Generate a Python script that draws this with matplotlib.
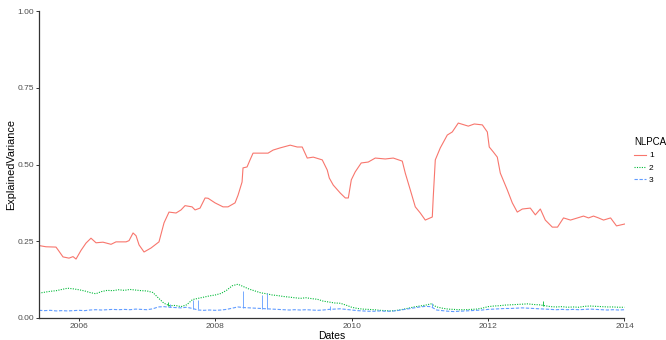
"""
plot.py
Explained variance of the first three NLPCA components over time.
"""

import numpy as np
import pandas as pd
import matplotlib
matplotlib.use("Agg")
import matplotlib.pyplot as plt
from matplotlib.lines import Line2D

plt.rcParams["font.family"] = ["Liberation Sans", "DejaVu Sans"]

RED = "#F8766D"
GREEN = "#00BA38"
BLUE = "#619CFF"

# component 1, read as (decimal year, value)
nlpca1_years = [
    2005.413, 2005.516, 2005.662, 2005.692, 2005.765, 2005.853, 2005.912, 2005.956,
    2006.029, 2006.103, 2006.176, 2006.250, 2006.352, 2006.470, 2006.543, 2006.690,
    2006.734, 2006.793, 2006.837, 2006.881, 2006.954, 2007.057, 2007.174, 2007.248,
    2007.321, 2007.424, 2007.497, 2007.556, 2007.659, 2007.703, 2007.776, 2007.850,
    2007.894, 2007.996, 2008.114, 2008.187, 2008.290, 2008.334, 2008.393, 2008.407,
    2008.466, 2008.510, 2008.554, 2008.657, 2008.774, 2008.848, 2008.950, 2009.097,
    2009.200, 2009.273, 2009.347, 2009.435, 2009.567, 2009.640, 2009.670, 2009.728,
    2009.831, 2009.905, 2009.949, 2009.993, 2010.051, 2010.139, 2010.242, 2010.345,
    2010.492, 2010.609, 2010.741, 2010.785, 2010.859, 2010.932, 2011.006, 2011.079,
    2011.182, 2011.196, 2011.226, 2011.299, 2011.402, 2011.475, 2011.563, 2011.710,
    2011.798, 2011.916, 2011.989, 2012.018, 2012.077, 2012.136, 2012.180, 2012.283,
    2012.356, 2012.429, 2012.503, 2012.620, 2012.694, 2012.767, 2012.840, 2012.943,
    2013.017, 2013.105, 2013.207, 2013.310, 2013.398, 2013.472, 2013.545, 2013.618,
    2013.692, 2013.795, 2013.882, 2013.941, 2014.000,
]
nlpca1_values = [
    0.236, 0.232, 0.231, 0.222, 0.199, 0.195, 0.200, 0.192,
    0.220, 0.244, 0.260, 0.245, 0.247, 0.240, 0.248, 0.248,
    0.252, 0.277, 0.268, 0.238, 0.215, 0.228, 0.248, 0.310,
    0.345, 0.342, 0.352, 0.366, 0.362, 0.352, 0.358, 0.391,
    0.390, 0.375, 0.362, 0.362, 0.375, 0.400, 0.443, 0.489,
    0.492, 0.515, 0.537, 0.537, 0.537, 0.547, 0.554, 0.563,
    0.557, 0.557, 0.521, 0.524, 0.515, 0.482, 0.456, 0.433,
    0.407, 0.391, 0.391, 0.450, 0.476, 0.505, 0.508, 0.521,
    0.518, 0.521, 0.511, 0.472, 0.417, 0.362, 0.342, 0.319,
    0.329, 0.394, 0.515, 0.554, 0.596, 0.606, 0.635, 0.625,
    0.632, 0.629, 0.606, 0.557, 0.541, 0.524, 0.472, 0.417,
    0.375, 0.345, 0.355, 0.358, 0.336, 0.355, 0.319, 0.296,
    0.296, 0.326, 0.319, 0.326, 0.332, 0.326, 0.332, 0.326,
    0.319, 0.326, 0.300, 0.303, 0.306,
]

# components 2 and 3, monthly from 2005-06 to 2014-01
monthly_start = "2005-06-01"
monthly_end = "2014-01-01"
nlpca2_values = [
    0.081, 0.084, 0.087, 0.089, 0.093, 0.097, 0.095, 0.092, 0.088, 0.083,
    0.079, 0.086, 0.090, 0.089, 0.092, 0.090, 0.093, 0.091, 0.089, 0.088,
    0.083, 0.066, 0.048, 0.040, 0.041, 0.037, 0.043, 0.060, 0.064, 0.068,
    0.072, 0.075, 0.080, 0.090, 0.105, 0.110, 0.102, 0.094, 0.088, 0.082,
    0.079, 0.075, 0.073, 0.070, 0.068, 0.066, 0.064, 0.066, 0.063, 0.061,
    0.055, 0.052, 0.049, 0.048, 0.042, 0.035, 0.031, 0.029, 0.028, 0.027,
    0.025, 0.024, 0.023, 0.025, 0.028, 0.032, 0.036, 0.039, 0.042, 0.046,
    0.036, 0.032, 0.029, 0.028, 0.027, 0.027, 0.028, 0.029, 0.032, 0.037,
    0.039, 0.040, 0.042, 0.043, 0.044, 0.045, 0.046, 0.044, 0.043, 0.040,
    0.037, 0.036, 0.037, 0.035, 0.036, 0.035, 0.038, 0.039, 0.038, 0.037,
    0.036, 0.036, 0.035, 0.035,
]
nlpca3_values = [
    0.025, 0.024, 0.025, 0.023, 0.024, 0.023, 0.024, 0.025, 0.024, 0.026,
    0.027, 0.026, 0.027, 0.028, 0.027, 0.028, 0.027, 0.029, 0.028, 0.027,
    0.030, 0.036, 0.037, 0.035, 0.034, 0.033, 0.035, 0.031, 0.026, 0.025,
    0.026, 0.025, 0.026, 0.028, 0.032, 0.036, 0.034, 0.033, 0.032, 0.031,
    0.030, 0.029, 0.028, 0.027, 0.026, 0.027, 0.026, 0.027, 0.026, 0.025,
    0.026, 0.028, 0.029, 0.030, 0.028, 0.026, 0.024, 0.023, 0.022, 0.022,
    0.023, 0.022, 0.022, 0.024, 0.027, 0.030, 0.033, 0.036, 0.038, 0.037,
    0.026, 0.024, 0.022, 0.021, 0.022, 0.023, 0.024, 0.025, 0.026, 0.028,
    0.029, 0.030, 0.031, 0.031, 0.032, 0.033, 0.032, 0.031, 0.030, 0.029,
    0.028, 0.027, 0.028, 0.027, 0.028, 0.027, 0.028, 0.029, 0.028, 0.027,
    0.026, 0.027, 0.026, 0.027,
]

# single-day spikes
nlpca2_spike_years = [2007.30, 2012.81]
nlpca2_spike_base = [0.040, 0.040]
nlpca2_spike_peak = [0.052, 0.056]
nlpca3_spike_years = [2007.34, 2007.673, 2007.747, 2008.407, 2008.686, 2008.76, 2009.68, 2011.18]
nlpca3_spike_base = [0.035, 0.030, 0.030, 0.034, 0.030, 0.030, 0.026, 0.037]
nlpca3_spike_peak = [0.046, 0.058, 0.060, 0.088, 0.075, 0.080, 0.040, 0.050]


def to_dates(years):
    years = np.asarray(years, dtype=float)
    whole = np.floor(years).astype(int)
    base = pd.to_datetime([f"{y}-01-01" for y in whole])
    return base + pd.to_timedelta((years - whole) * 365.25, unit="D")


def main():
    fig = plt.figure(figsize=(6.66, 3.4), dpi=100)
    ax = fig.add_axes([39 / 666, 1 - 318 / 340, (624.5 - 39) / 666, 307 / 340])

    monthly = pd.date_range(monthly_start, monthly_end, freq="MS")
    lw = 0.8

    ax.plot(to_dates(nlpca1_years), nlpca1_values, color=RED, lw=lw)
    ax.plot(monthly, nlpca2_values, color=GREEN, lw=lw, linestyle=(0, (1, 1.2)))
    ax.vlines(to_dates(nlpca2_spike_years), nlpca2_spike_base, nlpca2_spike_peak,
              color=GREEN, lw=0.6)
    ax.plot(monthly, nlpca3_values, color=BLUE, lw=lw, linestyle=(0, (3, 1.5)))
    ax.vlines(to_dates(nlpca3_spike_years), nlpca3_spike_base, nlpca3_spike_peak,
              color=BLUE, lw=0.6)

    ax.set_xlim(to_dates([2005.413])[0], pd.Timestamp("2014-01-01"))
    ax.set_ylim(0, 1)
    ax.set_yticks([0, 0.25, 0.5, 0.75, 1.0])
    ax.set_yticklabels(["0.00", "0.25", "0.50", "0.75", "1.00"])
    ticks = pd.to_datetime(["2006-01-01", "2008-01-01", "2010-01-01",
                            "2012-01-01", "2014-01-01"])
    ax.set_xticks(ticks)
    ax.set_xticklabels(["2006", "2008", "2010", "2012", "2014"])

    for side in ["top", "right"]:
        ax.spines[side].set_visible(False)
    for side in ["left", "bottom"]:
        ax.spines[side].set_color("#333333")
        ax.spines[side].set_linewidth(0.9)
    ax.tick_params(length=2.2, width=0.7, color="#333333", labelsize=6,
                   labelcolor="#4d4d4d", pad=1.5)

    ax.set_xlabel("Dates", fontsize=7.5, labelpad=0.5)
    ax.set_ylabel("ExplainedVariance", fontsize=7.8, labelpad=0.5)
    # the title sits mostly above the canvas, as in the original export
    fig.text(0.507, 1 + 3 / 340, "Dates", ha="center", va="center", fontsize=8)

    handles = [
        Line2D([], [], color=RED, lw=lw),
        Line2D([], [], color=GREEN, lw=lw, linestyle=(0, (1, 1.2))),
        Line2D([], [], color=BLUE, lw=lw, linestyle=(0, (3, 1.5))),
    ]
    fig.legend(handles, ["1", "2", "3"], title="NLPCA",
               loc="upper left", bbox_to_anchor=(634 / 666, 1 - 137 / 340),
               frameon=False, fontsize=6, title_fontsize=7,
               handlelength=1.4, handletextpad=0.4, labelspacing=0.55,
               borderpad=0, borderaxespad=0, alignment="left")

    fig.savefig("out.png", dpi=100)
    plt.close()


if __name__ == "__main__":
    main()
